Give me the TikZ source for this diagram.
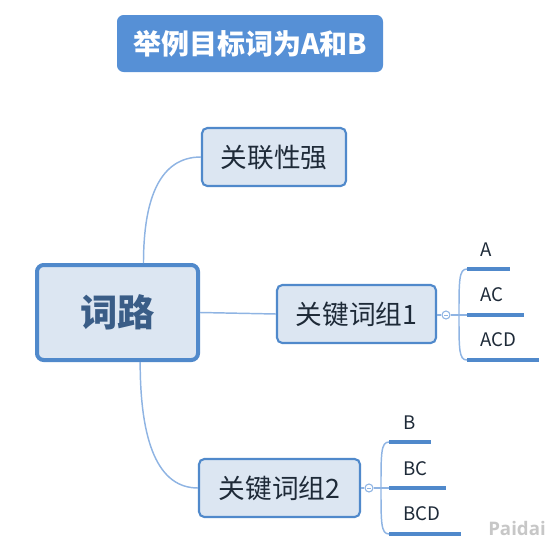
\documentclass[tikz,border=0pt]{standalone}
\usepackage{fontspec}
\setmainfont{Noto Sans CJK SC}
\newfontfamily\cjk{Noto Sans CJK SC}
\newfontfamily\wmfont{Open Sans}
\definecolor{boxfill}{HTML}{DCE6F2}
\definecolor{boxline}{HTML}{5089CB}
\definecolor{conn}{HTML}{8FB4E3}
\definecolor{titlefill}{HTML}{5690D6}
\definecolor{txt}{HTML}{1E2A38}
\definecolor{roottxt}{HTML}{3A5D87}
\definecolor{uline}{HTML}{5089CB}
\tikzset{
  topicbox/.style={draw=boxline, fill=boxfill, line width=1.6pt, rounded corners=4pt,
    minimum height=43.5pt, inner sep=0pt, text=txt, font=\cjk\fontsize{20}{22}\selectfont},
  rootbox/.style={draw=boxline, fill=boxfill, line width=3pt, rounded corners=5pt,
    minimum width=120.75pt, minimum height=71.25pt, inner sep=0pt, text=roottxt,
    font=\cjk\bfseries\fontsize{28}{30}\selectfont},
  conline/.style={draw=conn, line width=1.1pt},
  ulinestyle/.style={draw=uline, line width=2.3pt},
  leaf/.style={anchor=west, inner sep=0pt, text=txt, font=\cjk\fontsize{14}{16}\selectfont},
  knob/.style={circle, draw=conn, fill=white, line width=0.8pt, minimum size=6pt, inner sep=0pt},
}
\begin{document}
\begin{tikzpicture}[x=0.75pt,y=-0.75pt]
\useasboundingbox (0,0) rectangle (547,543);
% title
\node[fill=titlefill, rounded corners=5pt, minimum width=199.5pt, minimum height=42.75pt,
  inner sep=0pt, text=white, font=\cjk\bfseries\fontsize{21}{23}\selectfont] (title) at (250,43.5) {举例目标词为A和B};
% nodes
\node[rootbox] (root) at (117.5,312.5) {词路};
\node[topicbox, minimum width=108pt] (n1) at (274,157) {关联性强};
\node[topicbox, minimum width=119.25pt] (g1) at (356.5,314) {关键词组1};
\node[topicbox, minimum width=120.75pt] (g2) at (279.5,488) {关键词组2};
% connectors from root
\coordinate (rt) at ([xshift=19.5pt]root.north);
\coordinate (rb) at ([xshift=17pt]root.south);
\draw[conline] (rt) .. controls ([yshift=50pt]rt) and ([xshift=-30pt]n1.west) .. (n1.west);
\draw[conline] (root.east) -- (g1.west);
\draw[conline] (rb) .. controls ([yshift=-60pt]rb) and ([xshift=-30pt]g2.west) .. (g2.west);
% group 1 branch
\node[knob] (k1) at (446,315) {};
\draw[conline] (g1.east |- k1) -- (k1.west);
\draw[draw=conn, line width=0.5pt] ([xshift=-1.5pt]k1.center) -- ([xshift=1.5pt]k1.center);
\coordinate (u1a) at (467,269);
\coordinate (u1b) at (467,315);
\coordinate (u1c) at (467,360);
\coordinate (u1ae) at (510,269);
\coordinate (u1be) at (524,315);
\coordinate (u1ce) at (539,360);
\coordinate (b1) at (459,315);
\draw[conline] (k1.east) -- (u1b);
\draw[conline] (b1) .. controls (459,280) and (459,269) .. (u1a);
\draw[conline] (b1) .. controls (459,350) and (459,360) .. (u1c);
\draw[ulinestyle] (u1a) -- (u1ae);
\draw[ulinestyle] (u1b) -- (u1be);
\draw[ulinestyle] (u1c) -- (u1ce);
\node[leaf] (la) at (480,250) {A};
\node[leaf] (lac) at (480,295) {AC};
\node[leaf] (lacd) at (480,340) {ACD};
% group 2 branch
\node[knob] (k2) at (369,488) {};
\draw[conline] (g2.east |- k2) -- (k2.west);
\draw[draw=conn, line width=0.5pt] ([xshift=-1.5pt]k2.center) -- ([xshift=1.5pt]k2.center);
\coordinate (u2a) at (389,442);
\coordinate (u2b) at (389,488);
\coordinate (u2c) at (389,534);
\coordinate (u2ae) at (431,442);
\coordinate (u2be) at (446,488);
\coordinate (u2ce) at (461,534);
\coordinate (b2) at (381,488);
\draw[conline] (k2.east) -- (u2b);
\draw[conline] (b2) .. controls (381,453) and (381,442) .. (u2a);
\draw[conline] (b2) .. controls (381,523) and (381,534) .. (u2c);
\draw[ulinestyle] (u2a) -- (u2ae);
\draw[ulinestyle] (u2b) -- (u2be);
\draw[ulinestyle] (u2c) -- (u2ce);
\node[leaf] (lb) at (403,423) {B};
\node[leaf] (lbc) at (403,469) {BC};
\node[leaf] (lbcd) at (403,514) {BCD};
% watermark
\node[anchor=east, inner sep=0pt, text=black!22, font=\wmfont\bfseries\fontsize{14}{16}\selectfont] (wm) at (546,528) {Paidai};
\end{tikzpicture}
\end{document}
